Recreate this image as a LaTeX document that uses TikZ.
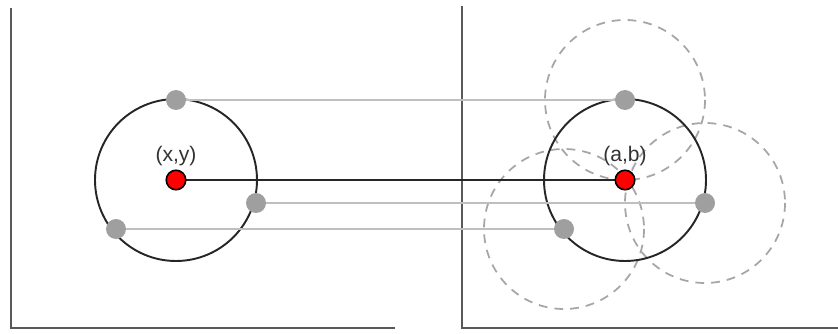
\documentclass[tikz,border=0pt]{standalone}
\usepackage{fontspec}
\setmainfont{Liberation Sans}
\begin{document}
\begin{tikzpicture}[
        x=0.2mm, y=-0.2mm,
        punto/.style={circle, fill=gray!75, inner sep=0pt, minimum size=4mm},
        centro/.style={circle, draw=black, line width=0.9pt, fill=red, inner sep=0pt, minimum size=3.9mm},
        etiqueta/.style={font=\large, text=black!80},
        eje/.style={draw=black!65, line width=1.3pt},
        guia/.style={draw=black!25, line width=1.1pt},
        vecino/.style={draw=black!35, dashed, dash pattern=on 5pt off 4pt, line width=1pt}
    ]
        \useasboundingbox (0,0) rectangle (838,334);

        % Ejes
        \draw[eje] (11,8) -- (11,328) -- (395,328);
        \draw[eje] (462,6) -- (462,328) -- (838,328);

        % Circulos de vecindad (derecha)
        \draw[vecino] (625,100) circle (80);
        \draw[vecino] (705,203) circle (80);
        \draw[vecino] (564,229) circle (80);

        % Circulos principales
        \draw[black!85, line width=1.1pt] (176,180) circle (81);
        \draw[black!85, line width=1.1pt] (625,180) circle (81);

        % Puntos sobre los circulos
        \coordinate (p1) at (176,100);
        \coordinate (p2) at (256,203);
        \coordinate (p3) at (116,229);
        \coordinate (q1) at (625,100);
        \coordinate (q2) at (705,203);
        \coordinate (q3) at (564,229);
        \coordinate (xy) at (176,180);
        \coordinate (ab) at (625,180);

        \draw[guia] (p1) -- (q1);
        \draw[guia] (p2) -- (q2);
        \draw[guia] (p3) -- (q3);
        \draw[black!85, line width=1.3pt] (xy) -- (ab);

        \node[punto] (a1) at (p1) {};
        \node[punto] (a2) at (p2) {};
        \node[punto] (a3) at (p3) {};
        \node[punto] (b1) at (q1) {};
        \node[punto] (b2) at (q2) {};
        \node[punto] (b3) at (q3) {};

        % Centros
        \node[centro] (cxy) at (xy) {};
        \node[centro] (cab) at (ab) {};
        \node[etiqueta] at (176,156) {(x,y)};
        \node[etiqueta] at (625,156) {(a,b)};
    \end{tikzpicture}
\end{document}
